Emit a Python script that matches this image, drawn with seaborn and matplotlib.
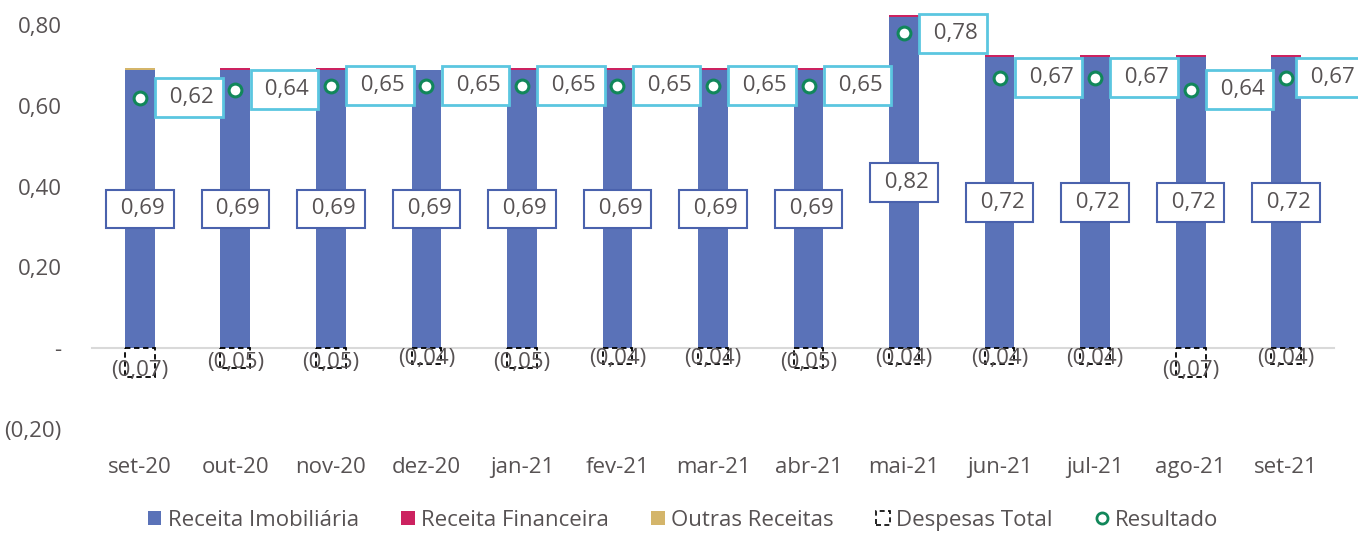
import numpy as np
import pandas as pd
import seaborn as sns
import matplotlib.pyplot as plt
from matplotlib.patches import Patch
from matplotlib.lines import Line2D
from matplotlib.ticker import FuncFormatter

# dados mensais
months = ["set-20", "out-20", "nov-20", "dez-20", "jan-21", "fev-21", "mar-21",
          "abr-21", "mai-21", "jun-21", "jul-21", "ago-21", "set-21"]
rec_imob = [0.69, 0.69, 0.69, 0.69, 0.69, 0.69, 0.69, 0.69, 0.82, 0.72, 0.72, 0.72, 0.72]
rec_fin = [0.0, 0.005, 0.005, 0.0, 0.005, 0.005, 0.005, 0.005, 0.005, 0.005, 0.005, 0.005, 0.005]
outras = [0.005, 0.0, 0.0, 0.0, 0.0, 0.0, 0.0, 0.0, 0.0, 0.0, 0.0, 0.0, 0.0]
despesas = [0.07, 0.05, 0.05, 0.04, 0.05, 0.04, 0.04, 0.05, 0.04, 0.04, 0.04, 0.07, 0.04]
resultado = [0.62, 0.64, 0.65, 0.65, 0.65, 0.65, 0.65, 0.65, 0.78, 0.67, 0.67, 0.64, 0.67]

c_imob = "#5a72b8"
c_fin = "#cc2260"
c_out = "#d4b56a"
c_res = "#11875a"
c_txt = "#575253"

sns.set_style("white")
plt.rcParams["font.family"] = ["Open Sans", "DejaVu Sans"]
plt.rcParams["font.size"] = 16

df = pd.DataFrame({"pos": np.arange(len(months)), "imob": rec_imob, "fin": rec_fin,
                   "outras": outras, "desp": [-d for d in despesas], "res": resultado})
df["base_out"] = df["imob"] + df["fin"]

fig = plt.figure(figsize=(13.58, 5.33), dpi=100)
ax = fig.add_axes([92/1358, 104/533, 1242/1358, 424/533])

w = 0.31
sns.barplot(data=df, x="pos", y="imob", color=c_imob, width=w, errorbar=None,
            saturation=1, linewidth=0, ax=ax, zorder=2)
sns.barplot(data=df, x="pos", y="fin", bottom=df["imob"].values, color=c_fin, width=w,
            errorbar=None, saturation=1, linewidth=0, ax=ax, zorder=2)
sns.barplot(data=df, x="pos", y="outras", bottom=df["base_out"].values, color=c_out, width=w,
            errorbar=None, saturation=1, linewidth=0, ax=ax, zorder=2)
sns.barplot(data=df, x="pos", y="desp", color="white", width=w, errorbar=None, saturation=1,
            edgecolor="black", linewidth=1.3, linestyle=(0, (3, 2)), ax=ax, zorder=2)
sns.scatterplot(data=df, x="pos", y="res", marker="o", s=85, color="white",
                edgecolor=c_res, linewidth=2.2, ax=ax, zorder=5, legend=False)


def fmt(v, p=None):
    if abs(v) < 1e-9:
        return "-"
    s = f"{abs(v):.2f}".replace(".", ",")
    return f"({s})" if v < 0 else s


# rótulos
last = len(months) - 1
for i, r in df.iterrows():
    ax.text(r["pos"], r["imob"] / 2, " " + fmt(r["imob"]), ha="center", va="center",
            color=c_txt, zorder=6,
            bbox=dict(boxstyle="square,pad=0.4", fc="white", ec="#4a62ad", lw=1.5))
    # o último rótulo é empurrado para dentro, como no Excel
    xoff = 49 if i < last else 44
    ax.annotate(" " + fmt(r["res"]), (r["pos"], r["res"]), xytext=(xoff, 0),
                textcoords="offset pixels", ha="center", va="center", color=c_txt, zorder=6,
                bbox=dict(boxstyle="square,pad=0.4", fc="white", ec="#5bc6e0", lw=2))
    ax.annotate(fmt(r["desp"]), (r["pos"], r["desp"]), xytext=(0, 6),
                textcoords="offset pixels", ha="center", va="center", color=c_txt, zorder=6)

ax.set_ylim(-0.2, 0.85)
ax.set_xlim(-0.5, len(months) - 0.5)
ax.set_yticks([-0.2, 0, 0.2, 0.4, 0.6, 0.8])
ax.yaxis.set_major_formatter(FuncFormatter(fmt))
ax.tick_params(axis="y", length=0, pad=22, labelcolor=c_txt)
ax.set_xticks(np.arange(-0.5, len(months), 1))
ax.set_xticklabels([])
ax.tick_params(axis="x", length=4, width=1.5, color="#d9d9d9", direction="out")
ax.set_xlabel("")
ax.set_ylabel("")
for s in ["top", "right", "left"]:
    ax.spines[s].set_visible(False)
ax.spines["bottom"].set_position(("data", 0))
ax.spines["bottom"].set_color("#d9d9d9")
ax.spines["bottom"].set_linewidth(1.5)
ax.spines["bottom"].set_zorder(1)

sec = ax.secondary_xaxis(0)
sec.set_xticks(np.arange(len(months)), labels=months)
sec.tick_params(length=0, pad=20, labelcolor=c_txt)
sec.spines["bottom"].set_visible(False)

handles = [
    Patch(fc=c_imob, ec="none", label="Receita Imobiliária"),
    Patch(fc=c_fin, ec="none", label="Receita Financeira"),
    Patch(fc=c_out, ec="none", label="Outras Receitas"),
    Patch(fc="white", ec="black", lw=1.2, linestyle=(0, (3, 2)), label="Despesas Total"),
    Line2D([], [], lw=0, marker="o", ms=8, mfc="white", mec=c_res, mew=2, label="Resultado"),
]
leg = fig.legend(handles=handles, loc="center", bbox_to_anchor=(0.503, 0.024), ncol=5,
                 frameon=False, handlelength=0.6, handleheight=0.6, handletextpad=0.3,
                 columnspacing=1.9)
for t in leg.get_texts():
    t.set_color(c_txt)

fig.savefig("out.png", dpi=100)
